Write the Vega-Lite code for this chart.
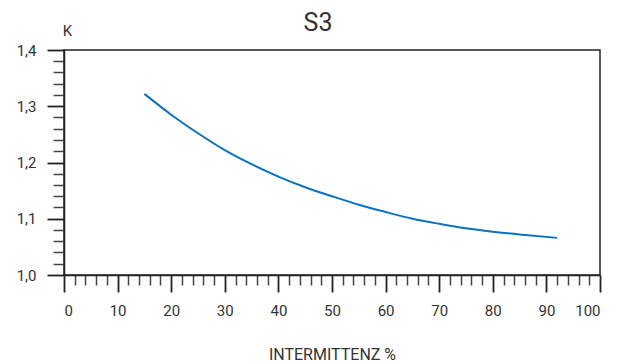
{
  "$schema": "https://vega.github.io/schema/vega-lite/v6.json",
  "width": 536,
  "height": 225,
  "autosize": {"type": "none"},
  "padding": {"left": 64, "top": 50, "right": 26, "bottom": 88},
  "background": "white",
  "title": {"text": "S3", "fontSize": 25, "font": "Roboto", "fontWeight": "normal", "color": "#333333", "anchor": "middle", "dx": -14, "baseline": "alphabetic", "offset": -26, "dy": 7},
  "config": {"view": {"stroke": "#222222", "strokeWidth": 1.5}},
  "data": {"values": [
    {"x": 15, "k": 1.322},
    {"x": 20, "k": 1.285},
    {"x": 25, "k": 1.252},
    {"x": 30, "k": 1.222},
    {"x": 35, "k": 1.197},
    {"x": 40, "k": 1.175},
    {"x": 45, "k": 1.156},
    {"x": 50, "k": 1.140},
    {"x": 55, "k": 1.125},
    {"x": 60, "k": 1.112},
    {"x": 65, "k": 1.100},
    {"x": 70, "k": 1.091},
    {"x": 75, "k": 1.083},
    {"x": 80, "k": 1.077},
    {"x": 85, "k": 1.072},
    {"x": 92, "k": 1.066}
  ]},
  "resolve": {"axis": {"x": "independent", "y": "independent"}},
  "layer": [
    {
      "mark": {"type": "line", "opacity": 0},
      "encoding": {
        "x": {"field": "x", "type": "quantitative", "scale": {"domain": [0, 100], "nice": false},
          "axis": {"orient": "bottom", "values": [2,4,6,8,12,14,16,18,22,24,26,28,32,34,36,38,42,44,46,48,52,54,56,58,62,64,66,68,72,74,76,78,82,84,86,88,92,94,96,98], "tickSize": 10, "tickWidth": 1.5, "tickColor": "#444444", "labels": false, "domain": false, "grid": false, "title": null}},
        "y": {"field": "k", "type": "quantitative", "scale": {"domain": [1.0, 1.4], "nice": false, "zero": false},
          "axis": {"orient": "left", "values": [1.02,1.04,1.06,1.08,1.12,1.14,1.16,1.18,1.22,1.24,1.26,1.28,1.32,1.34,1.36,1.38], "tickSize": 11, "tickWidth": 1.5, "tickColor": "#444444", "labels": false, "domain": false, "grid": false, "title": null}}
      }
    },
    {
      "mark": {"type": "line", "color": "#0a72c0", "strokeWidth": 2, "interpolate": "natural"},
      "encoding": {
        "x": {"field": "x", "type": "quantitative", "scale": {"domain": [0, 100], "nice": false},
          "axis": {"orient": "bottom", "values": [0,10,20,30,40,50,60,70,80,90,100], "tickSize": 17, "tickWidth": 1.8, "tickColor": "#222222", "domainColor": "#222222", "domainWidth": 1.5, "grid": false, "labelFont": "Roboto", "labelFontSize": 15, "labelColor": "#333333", "labelPadding": 11, "title": "INTERMITTENZ %", "titleFont": "Roboto", "titleFontSize": 16, "titleFontWeight": "normal", "titleColor": "#333333", "titleBaseline": "alphabetic", "titleY": 84}},
        "y": {"field": "k", "type": "quantitative", "scale": {"domain": [1.0, 1.4], "nice": false, "zero": false},
          "axis": {"orient": "left", "values": [1.0, 1.1, 1.2, 1.3, 1.4], "labelExpr": "replace(format(datum.value, '.1f'), '.', ',')", "tickSize": 17, "tickWidth": 1.8, "tickColor": "#222222", "domainColor": "#222222", "domainWidth": 1.5, "grid": false, "labelFont": "Roboto", "labelFontSize": 15, "labelColor": "#333333", "labelPadding": 11, "title": "K", "titleAngle": 0, "titleX": 3, "titleY": -15, "titleAlign": "center", "titleBaseline": "alphabetic", "titleFont": "Roboto", "titleFontSize": 15, "titleFontWeight": "normal", "titleColor": "#333333"}}
      }
    }
  ]
}
